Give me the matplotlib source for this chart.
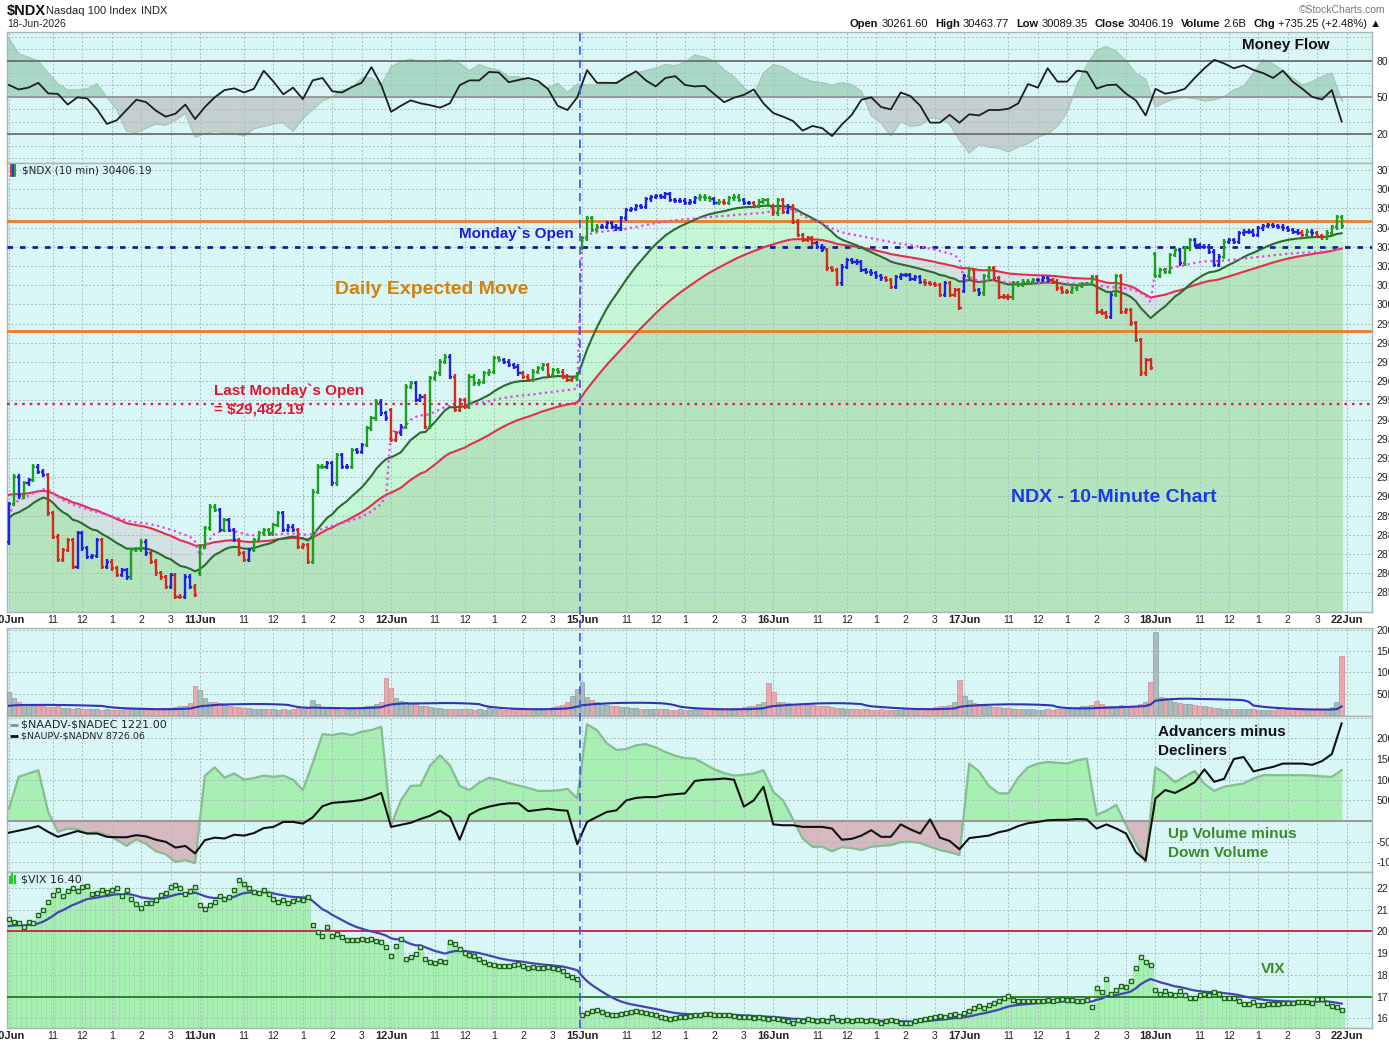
import numpy as np
import matplotlib
matplotlib.use("Agg")
import matplotlib.pyplot as plt
from matplotlib.collections import LineCollection
from matplotlib.lines import Line2D

# ------------------------------------------------------------------ data
days = ["10Jun", "11Jun", "12Jun", "15Jun", "16Jun", "17Jun", "18Jun"]
next_day_label = "22Jun"
bars_per_day = 39
hour_labels = ["11", "12", "1", "2", "3"]
hour_offsets = [9, 15, 21, 27, 33]

day_open = [28760, 28600, 29450, 30295, 30509, 30070, 30262]

close_10jun = [28960, 29103, 29000, 29068, 29085, 29155, 29129, 29111, 28912, 28790,
               28669, 28721, 28773, 28634, 28808, 28730, 28686, 28690, 28773, 28634,
               28660, 28625, 28591, 28617, 28578, 28721, 28725, 28764, 28704, 28660,
               28600, 28578, 28530, 28591, 28478, 28478, 28582, 28530, 28487]
close_11jun = [28738, 28834, 28947, 28929, 28825, 28877, 28825, 28773, 28704, 28669,
               28721, 28773, 28808, 28825, 28808, 28851, 28912, 28825, 28842, 28825,
               28738, 28747, 28660, 29025, 29155, 29155, 29172, 29068, 29216, 29155,
               29155, 29242, 29233, 29268, 29355, 29407, 29494, 29433, 29407]
close_12jun = [29294, 29329, 29363, 29572, 29589, 29502, 29520, 29363, 29615, 29641,
               29702, 29728, 29624, 29450, 29502, 29468, 29624, 29589, 29598, 29641,
               29650, 29719, 29710, 29702, 29685, 29676, 29641, 29624, 29606, 29650,
               29667, 29685, 29633, 29658, 29650, 29624, 29606, 29615, 29638]
close_15jun = [30344, 30448, 30388, 30405, 30405, 30422, 30405, 30396, 30448, 30492,
               30496, 30513, 30509, 30547, 30558, 30565, 30558, 30575, 30544, 30540,
               30540, 30527, 30535, 30552, 30561, 30552, 30547, 30527, 30535, 30527,
               30552, 30561, 30544, 30527, 30527, 30513, 30535, 30544, 30518]
close_16jun = [30474, 30544, 30483, 30509, 30431, 30361, 30335, 30344, 30318, 30301,
               30283, 30188, 30179, 30110, 30197, 30231, 30223, 30218, 30179, 30170,
               30162, 30145, 30136, 30127, 30092, 30141, 30153, 30153, 30131, 30141,
               30118, 30110, 30106, 30101, 30049, 30110, 30049, 30075, 29980]
close_17jun = [30145, 30179, 30075, 30058, 30145, 30188, 30136, 30040, 30040, 30037,
               30110, 30101, 30118, 30118, 30127, 30127, 30136, 30127, 30118, 30084,
               30066, 30066, 30084, 30096, 30106, 30106, 30141, 29962, 29954, 29936,
               30049, 30145, 29962, 29971, 29901, 29815, 29641, 29710, 29671]
close_18jun = [30150, 30179, 30170, 30257, 30283, 30214, 30292, 30335, 30309, 30301,
               30301, 30275, 30205, 30249, 30327, 30335, 30327, 30370, 30379, 30379,
               30361, 30396, 30408, 30414, 30408, 30405, 30396, 30388, 30379, 30374,
               30361, 30379, 30370, 30356, 30349, 30374, 30401, 30453, 30406]

# bar colours (G = green, R = red, B = blue) as shown per bar
color_10jun = "BGBGBGBBRRRRRRBBBBBRBRRBBGGGBRRRRBRRBBR"
color_11jun = "GGGGBGBBRRBGGGGGGBBBRRRGGGBBGBBGBBGGGBB"
color_12jun = "RRBGGBBRGGGGBRRRGGGGGGGBBBBRRGGGRGGRRRG"
color_15jun = "GGGG" + "B" * 20 + "GGGBGRGGGBBRGGG"
color_16jun = "RGRBRRRRRBBRRR" + "B" * 9 + "RR" + "B" * 6 + "RRRRBRRR"
color_17jun = "BGRBGGRRRRGGGGGBBBRRRRGGGGGRRRBG" + "R" * 7
color_18jun = "GGGGGBGGBBBBBBG" + "B" * 15 + "RGBRRGGGG"

vol_10jun = [54, 39, 31, 27, 23, 21, 20, 22, 19, 18, 20, 17, 16, 15, 16, 14, 13, 15, 14, 12,
             13, 12, 11, 12, 13, 14, 15, 13, 12, 14, 13, 15, 16, 17, 18, 20, 22, 28, 67]
vol_11jun = [59, 39, 30, 30, 28, 23, 20, 19, 18, 17, 16, 15, 14, 14, 13, 13, 12, 13, 12, 14,
             16, 15, 18, 36, 25, 18, 16, 14, 13, 12, 14, 15, 16, 18, 20, 22, 25, 30, 86]
vol_12jun = [63, 41, 34, 30, 28, 25, 22, 20, 18, 17, 16, 15, 15, 14, 13, 14, 13, 12, 13, 12,
             18, 14, 13, 12, 12, 13, 12, 14, 13, 15, 14, 16, 17, 18, 20, 24, 30, 45, 60]
vol_15jun = [77, 42, 35, 30, 26, 24, 22, 20, 19, 18, 17, 16, 15, 15, 14, 13, 14, 13, 12, 12,
             13, 12, 12, 13, 14, 13, 12, 12, 13, 14, 15, 16, 17, 18, 20, 22, 26, 30, 75]
vol_16jun = [53, 30, 30, 28, 27, 26, 25, 24, 24, 22, 20, 20, 18, 17, 16, 15, 14, 14, 13, 13,
             12, 12, 13, 12, 11, 12, 12, 13, 12, 14, 15, 16, 17, 18, 20, 22, 24, 30, 81]
vol_17jun = [45, 35, 28, 25, 22, 20, 19, 18, 17, 16, 15, 14, 14, 13, 13, 12, 12, 13, 12, 14,
             15, 16, 17, 18, 20, 22, 24, 34, 26, 22, 20, 22, 24, 22, 20, 21, 25, 31, 78]
vol_18jun = [195, 43, 39, 36, 30, 28, 27, 25, 24, 22, 20, 18, 17, 16, 15, 15, 15, 14, 14, 13,
             13, 12, 12, 12, 12, 13, 12, 13, 13, 12, 12, 11, 12, 13, 14, 15, 18, 31, 139]

vix_10jun = [20.58, 20.43, 20.38, 20.2, 20.43, 20.4, 20.74, 21.0, 21.36, 21.67, 21.93, 21.62, 21.87,
             21.98, 21.87, 22.06, 22.09, 21.72, 21.78, 21.93, 21.83, 21.93, 21.98, 21.62, 21.9, 21.5,
             21.28, 21.1, 21.31, 21.31, 21.47, 21.67, 21.78, 22.06, 22.14, 21.98, 21.72, 21.87, 22.06]
vix_11jun = [21.2, 21.05, 21.2, 21.36, 21.62, 21.5, 21.59, 21.9, 22.37, 22.19, 21.98, 21.83, 21.75,
             21.9, 21.72, 21.5, 21.36, 21.44, 21.31, 21.41, 21.5, 21.47, 21.6, 20.3, 19.96, 19.8,
             20.2, 19.8, 19.88, 19.73, 19.6, 19.6, 19.6, 19.65, 19.6, 19.65, 19.57, 19.5, 19.3]
vix_12jun = [18.88, 19.34, 19.65, 18.72, 18.83, 18.95, 19.3, 18.72, 18.6, 18.55, 18.65, 18.6, 19.5,
             19.4, 19.2, 19.0, 18.9, 18.85, 18.75, 18.6, 18.5, 18.45, 18.4, 18.4, 18.4, 18.45, 18.5,
             18.4, 18.3, 18.35, 18.3, 18.3, 18.35, 18.3, 18.25, 18.2, 18.0, 17.9, 17.8]
vix_15jun = [16.13, 16.24, 16.35, 16.4, 16.29, 16.19, 16.16, 16.13, 16.19, 16.24, 16.29, 16.32, 16.29,
             16.24, 16.19, 16.13, 16.04, 16.0, 15.98, 16.0, 16.04, 16.07, 16.1, 16.13, 16.16, 16.19,
             16.19, 16.16, 16.13, 16.16, 16.13, 16.1, 16.07, 16.07, 16.04, 16.0, 16.04, 16.0, 15.98]
vix_16jun = [16.0, 15.95, 15.9, 15.85, 15.8, 15.9, 15.85, 15.95, 15.9, 15.85, 15.9, 15.85, 16.05,
             15.9, 15.85, 15.9, 15.85, 15.9, 15.9, 15.85, 15.9, 15.85, 15.8, 15.85, 15.9, 15.85,
             15.8, 15.78, 15.8, 15.85, 15.9, 15.95, 16.0, 16.05, 16.1, 16.05, 16.15, 16.2, 16.1]
vix_17jun = [16.24, 16.32, 16.45, 16.55, 16.47, 16.63, 16.7, 16.78, 16.94, 17.02, 16.86, 16.81, 16.81,
             16.78, 16.81, 16.81, 16.81, 16.86, 16.81, 16.86, 16.9, 16.86, 16.86, 16.78, 16.81, 16.86,
             16.5, 17.4, 17.2, 17.8, 17.1, 17.3, 17.5, 17.45, 17.7, 18.3, 18.8, 18.57, 18.47]
vix_18jun = [17.3, 17.1, 17.25, 17.1, 17.05, 17.25, 17.05, 16.95, 16.95, 17.05, 17.1, 17.05, 17.2,
             17.1, 16.95, 16.95, 16.95, 16.79, 16.67, 16.65, 16.75, 16.6, 16.6, 16.67, 16.67, 16.67,
             16.72, 16.72, 16.72, 16.75, 16.75, 16.75, 16.72, 16.87, 16.87, 16.72, 16.57, 16.5, 16.4]

# series sampled every 2nd bar (bar 0, 2, 4, ... 272)
sample_step = 2
money_flow = [60.2, 56.5, 58, 62, 53.3, 52.8, 44, 50, 49, 40,
              28, 31, 39.5, 48, 46, 39, 34, 36.5, 44, 32,
              42, 50, 56, 57.4, 54, 57, 72, 63, 52.5, 58,
              48.5, 64, 66, 55, 54, 58.5, 62, 75, 60, 38,
              43, 47.5, 45, 43.5, 41.5, 45, 60, 64, 64, 71,
              70.5, 62.5, 64.3, 66, 63.5, 57, 43, 39.5, 50, 72.5,
              62, 62, 61.8, 67, 71.5, 64, 59, 66, 67.5, 60.2,
              59, 59.5, 52.5, 46, 49.7, 52, 56.5, 45, 37, 34,
              30.5, 22.5, 26.3, 24.5, 18, 27.5, 35.4, 48, 50, 42,
              40, 54, 51, 43, 29.1, 29.1, 35.5, 29, 36, 35,
              39.5, 39.5, 40.5, 45, 61, 58, 74, 63, 63, 72,
              71, 57.2, 60, 60.5, 53, 47.5, 35, 57, 53, 54.5,
              57, 66, 74, 81, 78, 74, 76.5, 72.6, 70, 66,
              72, 63, 57, 50.3, 48.2, 56, 30]
money_flow_area = [98.8, 86, 83, 80, 70, 61, 56, 56, 57, 61,
                   50, 40, 22, 21, 24.5, 28, 27, 31, 37, 17,
                   20, 22, 21, 20, 18, 24, 26, 28, 29, 22,
                   32.6, 40, 47, 50.5, 56, 57.5, 65.7, 66, 60, 75,
                   79.5, 81.4, 79.5, 78, 80, 81, 78, 72, 77, 74,
                   72.5, 67, 67, 64, 61, 57.5, 61.6, 54, 61, 60,
                   60.2, 61, 62.5, 65.7, 70, 72, 74, 77, 76, 79,
                   85, 83, 80, 72.6, 67, 58, 52, 70, 77, 75,
                   70, 66, 63, 62, 60, 62, 60.5, 55, 35, 29,
                   18, 30, 26, 27, 33, 32, 28, 14.7, 4, 11,
                   9, 8, 5, 9, 12, 17, 20, 26, 38, 60,
                   76.7, 89, 92, 88, 80, 70, 65, 42, 46, 49,
                   50, 49, 47, 48, 50.5, 56, 59, 70, 81, 77.5,
                   72, 66, 60, 63, 67, 70, 47]
adv_minus_dec = [3, 10.7, 11.5, 12.3, 2.3, -2.6, -1.8, -2.0, -3, -2.6,
                 -3.4, -4.5, -6, -4.4, -5.5, -7.3, -8, -9.9, -9.4, -10.2,
                 11, 13, 10.5, 11.5, 10, 10.4, 11, 10.7, 11, 10,
                 7.5, 14, 21, 20.8, 21.2, 20.8, 21.6, 22, 22.8, -1,
                 5, 8.5, 8.6, 13.5, 15.9, 13.5, 8.5, 7.5, 9.3, 10.5,
                 10, 9.2, 8.6, 8.0, 7.3, 7.3, 7.4, 7.8, 5.5, 23.4,
                 22, 18.8, 17.2, 17.4, 18.3, 18.6, 17.8, 16.7, 15.8, 15.2,
                 15.1, 13.8, 12.5, 11.6, 11, 11.2, 11.5, 12.3, 7.1, 5,
                 0.5, -4.2, -6.2, -6.2, -7.3, -6.3, -6.5, -7, -6.2, -6.0,
                 -5.8, -5.1, -5, -5.3, -6.2, -7, -7.5, -8.2, 13.9, 12,
                 8.5, 6.7, 6.7, 10.5, 13, 13.9, 14.3, 14.1, 13.9, 14.7,
                 15.1, 1.5, 2.5, 3.9, -1, -5.5, -9.9, 13, 11.5, 9.4,
                 10.8, 12.1, 9, 7.3, 8.3, 8.7, 9.1, 10.3, 11.1, 11.1,
                 11.1, 11.1, 11.1, 11.0, 10.8, 10.7, 12.3]
upvol_minus_downvol = [-2.8, -2.3, -1.8, -1.2, -2.6, -3.8, -3.1, -2.4, -3, -3,
                       -3.8, -3.9, -3.9, -3.4, -3.7, -4.5, -5, -6.4, -6, -7.8,
                       -4.6, -4, -4.2, -3.3, -3.5, -2.9, -1.7, -1.4, -0.2, -0.2,
                       -0.6, 0.9, 3.6, 4.4, 4.6, 4.8, 5.1, 5.8, 6.8, -1.4,
                       -0.9, -0.4, 0.5, 1.3, 2.5, 1, -4.5, 1.5, 2.8, 3.5,
                       4.0, 4.3, 4.3, 2.4, 2.7, 3.0, 2.7, 2.5, -5.6, -0.2,
                       1.0, 2.2, 2.6, 5.0, 5.6, 5.8, 5.8, 6.3, 6.5, 6.7,
                       9.7, 10.0, 10.1, 10.3, 10, 3.5, 5, 8.3, -0.8, -1,
                       -1, -1.4, -1.4, -1.4, -1.8, -4.5, -4.3, -3.5, -2.2, -3.8,
                       -3.8, -0.8, -2, -3.0, 0.4, -4, -4.8, -6.8, -4.1, -3.8,
                       -3.5, -2.7, -2.2, -1.2, -0.5, -0.2, 0.2, 0.3, 0.3, 0.5,
                       0.4, -1.8, -0.8, -1.8, -3.0, -7.5, -9.5, 5.5, 7.5, 6.8,
                       8, 9.4, 12.5, 9.5, 10.2, 15, 15.5, 12, 12.6, 13.1,
                       13.9, 13.9, 13.9, 13.6, 14.5, 16.2, 23.6]

ema_fast_span, ema_fast_seed = 20, 28880
ema_slow_span, ema_slow_seed = 50, 29010
vol_ma_len, vol_ma_seed = 20, 20
vix_ma_span, vix_ma_seed = 14, 20.2

expected_move_upper = 30435
expected_move_lower = 29860
monday_open = 30300
last_monday_open = 29482.19

hdr_open, hdr_high, hdr_low, hdr_close = "30261.60", "30463.77", "30089.35", "30406.19"
hdr_volume, hdr_chg = "2.6B", "+735.25 (+2.48%)"
last_adv, last_updn, last_vix = "1221.00", "8726.06", "16.40"

# ------------------------------------------------------------------ derived series
closes = np.array(close_10jun + close_11jun + close_12jun + close_15jun +
                  close_16jun + close_17jun + close_18jun, float)
colors_code = (color_10jun + color_11jun + color_12jun + color_15jun +
               color_16jun + color_17jun + color_18jun)
vol = np.array(vol_10jun + vol_11jun + vol_12jun + vol_15jun + vol_16jun +
               vol_17jun + vol_18jun, float)
vix = np.array(vix_10jun + vix_11jun + vix_12jun + vix_15jun + vix_16jun +
               vix_17jun + vix_18jun, float)
n = len(closes)
kk = np.arange(n)
opens = np.empty(n)
opens[1:] = closes[:-1]
for d, o in enumerate(day_open):
    opens[d * bars_per_day] = o
wick = 12
highs = np.maximum(opens, closes) + wick
lows = np.minimum(opens, closes) - wick


def ema(x, span, seed):
    a = 2.0 / (span + 1)
    out, prev = [], seed
    for v in x:
        prev = prev + a * (v - prev)
        out.append(prev)
    return np.array(out)


ema_fast = ema(closes, ema_fast_span, ema_fast_seed)
ema_slow = ema(closes, ema_slow_span, ema_slow_seed)
tp = (highs + lows + closes) / 3
vwap = np.empty(n)
for d in range(len(days)):
    s = slice(d * bars_per_day, (d + 1) * bars_per_day)
    vwap[s] = np.cumsum(tp[s] * vol[s]) / np.cumsum(vol[s])
vol_ma = np.convolve(np.concatenate([np.full(vol_ma_len - 1, vol_ma_seed), vol]),
                     np.ones(vol_ma_len) / vol_ma_len, mode="valid")
vix_ma = ema(vix, vix_ma_span, vix_ma_seed)
prev_close = np.concatenate([[opens[0]], closes[:-1]])
vol_up = closes >= prev_close

xs = np.arange(0, n, sample_step)
mf = np.array(money_flow)
mfa = np.array(money_flow_area)
adv = np.array(adv_minus_dec)
updn = np.array(upvol_minus_downvol)

# ------------------------------------------------------------------ figure
W_PX, H_PX = 1389, 1046
fig = plt.figure(figsize=(W_PX / 100, H_PX / 100), dpi=100)
fig.patch.set_facecolor("white")
plt.rcParams["font.family"] = ["Liberation Sans", "DejaVu Sans"]
L_PX, R_PX = 7, 1372
XMIN, XMAX = -0.39, 278.2
BG = "#d9f6f6"


def rect(top, bot):
    return [L_PX / W_PX, 1 - bot / H_PX, (R_PX - L_PX) / W_PX, (bot - top) / H_PX]


def ftext(xp, yp, s, **kw):
    kw.setdefault("parse_math", False)
    return fig.text(xp / W_PX, 1 - yp / H_PX, s, **kw)


xticks, xlabels = [], []
for d, dname in enumerate(days):
    xticks.append(d * bars_per_day)
    xlabels.append(dname)
    for off, lab in zip(hour_offsets, hour_labels):
        xticks.append(d * bars_per_day + off)
        xlabels.append(lab)
xticks.append(len(days) * bars_per_day)
xlabels.append(next_day_label)


def style(ax, ylim, yticks, ylabels, show_x=False):
    ax.set_facecolor(BG)
    ax.set_xlim(XMIN, XMAX)
    ax.set_ylim(*ylim)
    ax.set_xticks(xticks)
    ax.set_yticks(yticks)
    ax.set_yticklabels(ylabels)
    ax.yaxis.tick_right()
    ax.tick_params(axis="both", length=0, labelsize=7.5, colors="#222222", pad=3)
    ax.grid(True, color="#a9bcbc", linestyle=(0, (2, 2)), linewidth=0.7, zorder=2.5)
    ax.set_axisbelow(False)
    for sp in ax.spines.values():
        sp.set_color("#a8b4b4")
        sp.set_linewidth(1.0)
    if show_x:
        ax.set_xticklabels(xlabels)
        ax.tick_params(axis="x", pad=2)
        for t in ax.get_xticklabels():
            if "Jun" in t.get_text():
                t.set_fontweight("bold")
                t.set_fontsize(8)
    else:
        ax.tick_params(axis="x", labelbottom=False)


# ---- Money flow panel
ax_mf = fig.add_axes(rect(32, 163))
mf_ticks = list(range(0, 101, 10))
style(ax_mf, (-4.3, 104), mf_ticks, [str(t) if t in (20, 50, 80) else "" for t in mf_ticks])
ax_mf.fill_between(xs, 50, mfa, where=mfa >= 50, interpolate=True, color="#a9d9c6", zorder=1)
ax_mf.fill_between(xs, 50, mfa, where=mfa < 50, interpolate=True, color="#c4cfcf", zorder=1)
ax_mf.plot(xs, mfa, color="#a7c7bb", lw=0.8, zorder=2)
for lvl, c in ((80, "#6e6e6e"), (20, "#6e6e6e"), (50, "#959595")):
    ax_mf.axhline(lvl, color=c, lw=1.3, zorder=3)
ax_mf.plot(xs, mf, color="#1e1e1e", lw=1.3, zorder=4)
ax_mf.text(0.937, 0.9, "Money Flow", transform=ax_mf.transAxes, ha="center", va="center",
           fontsize=11, fontweight="bold", color="#111111")

# ---- Price panel
P_TOP, P_BOT = 30736, 28398
ax_p = fig.add_axes(rect(163, 612))
p_ticks = list(range(28500, 30701, 100))
style(ax_p, (P_BOT, P_TOP), p_ticks, [str(t) for t in p_ticks], show_x=True)
ax_p.fill_between(kk, P_BOT, np.minimum(ema_fast, ema_slow), color="#b4e4be", zorder=1)
ax_p.fill_between(kk, ema_slow, ema_fast, where=ema_fast >= ema_slow, interpolate=True,
                  color="#c2f6d4", zorder=1)
ax_p.fill_between(kk, ema_fast, ema_slow, where=ema_fast < ema_slow, interpolate=True,
                  color="#d2e2e2", zorder=1)
ax_p.axhline(expected_move_upper, color="#f07a22", lw=2, zorder=3)
ax_p.axhline(expected_move_lower, color="#f07a22", lw=2, zorder=3)
ax_p.axhline(monday_open, color="#1c1c8e", lw=2, linestyle=(0, (2, 2.5)), zorder=3)
ax_p.axhline(last_monday_open, color="#e0204a", lw=1.6, linestyle=(0, (1.2, 2.2)), zorder=3)
ax_p.plot(kk, ema_slow, color="#e0304c", lw=1.5, zorder=4)
ax_p.plot(kk, ema_fast, color="#2c6a2e", lw=1.5, zorder=4)
ax_p.plot(kk, vwap, color="#ee3cee", lw=1.6, linestyle=(0, (1, 1.6)), zorder=4)

cmap = {"G": "#1aa01a", "R": "#d42a1e", "B": "#2020e6"}
segs, cols = [], []
tick_w = 0.42
for i in range(n):
    c = cmap[colors_code[i]]
    segs += [[(i, lows[i]), (i, highs[i])],
             [(i - tick_w, opens[i]), (i, opens[i])],
             [(i, closes[i]), (i + tick_w, closes[i])]]
    cols += [c, c, c]
ax_p.add_collection(LineCollection(segs, colors=cols, linewidths=1.7, zorder=6,
                                   capstyle="butt"))

ax_p.text(0.0113, 0.984, "$NDX (10 min) " + hdr_close, transform=ax_p.transAxes,
          fontsize=7.5, va="center", ha="left", color="#222222", parse_math=False,
          family="DejaVu Sans")
for dx, c in ((0.0030, "#d42a1e"), (0.0045, "#2020e6"), (0.0060, "#1aa01a")):
    ax_p.plot([dx, dx], [0.972, 0.995], transform=ax_p.transAxes, color=c, lw=1.3,
              zorder=7, clip_on=False)

ax_p.text((574 - L_PX) / (R_PX - L_PX), 1 - (234 - 163) / (612 - 163), "Monday`s Open",
          transform=ax_p.transAxes, ha="right", va="center", fontsize=11,
          fontweight="bold", color="#1a1ae0", zorder=8)
ax_p.text((432 - L_PX) / (R_PX - L_PX), 1 - (289 - 163) / (612 - 163), "Daily Expected Move",
          transform=ax_p.transAxes, ha="center", va="center", fontsize=14,
          fontweight="bold", color="#d4820e", zorder=8)
ax_p.text((214 - L_PX) / (R_PX - L_PX), 1 - (391 - 163) / (612 - 163), "Last Monday`s Open",
          transform=ax_p.transAxes, ha="left", va="center", fontsize=11,
          fontweight="bold", color="#e4142e", zorder=8)
ax_p.text((214 - L_PX) / (R_PX - L_PX), 1 - (409 - 163) / (612 - 163),
          "= ${:,.2f}".format(last_monday_open),
          transform=ax_p.transAxes, ha="left", va="center", fontsize=11,
          fontweight="bold", color="#e4142e", zorder=8, parse_math=False)
ax_p.text((1114 - L_PX) / (R_PX - L_PX), 1 - (497 - 163) / (612 - 163), "NDX - 10-Minute Chart",
          transform=ax_p.transAxes, ha="center", va="center", fontsize=14,
          fontweight="bold", color="#1a3ae6", zorder=8)

# ---- Volume panel
ax_v = fig.add_axes(rect(628, 716))
style(ax_v, (-2.3, 204), [50, 100, 150, 200], ["50M", "100M", "150M", "200M"])
ax_v.bar(kk[vol_up], vol[vol_up], width=0.92, color="#a9bbbb", edgecolor="#8a9e9e",
         linewidth=0.5, zorder=3)
ax_v.bar(kk[~vol_up], vol[~vol_up], width=0.92, color="#e7a9ad", edgecolor="#c98b92",
         linewidth=0.5, zorder=3)
ax_v.plot(kk, vol_ma, color="#3232b4", lw=1.5, zorder=4)

# ---- Advancers / up volume panel
ax_a = fig.add_axes(rect(716, 872))
a_ticks = [-10, -5, 0, 5, 10, 15, 20, 25]
style(ax_a, (-12.3, 25.4), a_ticks,
      ["" if t in (0, 25) else str(t * 100) for t in a_ticks])
ax_a.fill_between(xs, 0, adv, where=adv >= 0, interpolate=True, color="#a8efb4", zorder=1)
ax_a.fill_between(xs, 0, adv, where=adv < 0, interpolate=True, color="#d5b8c0", zorder=1)
ax_a.plot(xs, adv, color="#86bd92", lw=1.6, zorder=3)
ax_a.axhline(0, color="#9a9a9a", lw=1.5, zorder=3)
ax_a.plot(xs, updn, color="#111111", lw=1.5, zorder=4)
# legend keys drawn as short lines
ax_a.plot([0.0022, 0.0080], [0.945, 0.945], transform=ax_a.transAxes, color="#8a8a8a",
          lw=2, zorder=7, solid_capstyle="butt")
ax_a.plot([0.0022, 0.0080], [0.873, 0.873], transform=ax_a.transAxes, color="#111111",
          lw=2, zorder=7, solid_capstyle="butt")
ax_a.text(0.0100, 0.945, "$NAADV-$NADEC " + last_adv, transform=ax_a.transAxes, fontsize=8,
          color="#222222", va="center", parse_math=False, family="DejaVu Sans")
ax_a.text(0.0100, 0.873, "$NAUPV-$NADNV " + last_updn, transform=ax_a.transAxes, fontsize=6.8,
          color="#222222", va="center", parse_math=False, family="DejaVu Sans")
ax_a.text((1158 - L_PX) / (R_PX - L_PX), 1 - (732 - 716) / 156, "Advancers minus",
          transform=ax_a.transAxes, fontsize=11, fontweight="bold", color="#111111", va="center")
ax_a.text((1158 - L_PX) / (R_PX - L_PX), 1 - (751 - 716) / 156, "Decliners",
          transform=ax_a.transAxes, fontsize=11, fontweight="bold", color="#111111", va="center")
ax_a.text((1168 - L_PX) / (R_PX - L_PX), 1 - (834 - 716) / 156, "Up Volume minus",
          transform=ax_a.transAxes, fontsize=11, fontweight="bold", color="#3a8a2a", va="center")
ax_a.text((1168 - L_PX) / (R_PX - L_PX), 1 - (853 - 716) / 156, "Down Volume",
          transform=ax_a.transAxes, fontsize=11, fontweight="bold", color="#3a8a2a", va="center")

# ---- VIX panel
V_BOT, V_TOP = 15.55, 22.74
ax_x = fig.add_axes(rect(872, 1028))
v_ticks = [16, 17, 18, 19, 20, 21, 22]
style(ax_x, (V_BOT, V_TOP), v_ticks, [str(t) for t in v_ticks], show_x=True)
ax_x.bar(kk, vix - V_BOT, bottom=V_BOT, width=1.0, color="#a8efb3", edgecolor="#93dfa0",
         linewidth=0.4, zorder=1)
ax_x.axhline(20, color="#d2184a", lw=1.3, zorder=3)
ax_x.axhline(17, color="#1e7e1e", lw=1.3, zorder=3)
ax_x.plot(kk, vix_ma, color="#4444b6", lw=1.6, zorder=4)
ax_x.plot(kk, vix, linestyle="none", marker="s", ms=3.0, mfc="#c9f7c9", mec="#1b661b",
          mew=1.0, zorder=5)
ax_x.text(0.0105, 0.955, "$VIX " + last_vix, transform=ax_x.transAxes, fontsize=8,
          color="#222222", va="center", parse_math=False, family="DejaVu Sans")
for dx, h in ((0.0025, 0.035), (0.0040, 0.055), (0.0055, 0.045)):
    ax_x.plot([dx, dx], [0.93, 0.93 + h], transform=ax_x.transAxes, color="#22cc22",
              lw=1.6, zorder=7)
ax_x.text((1273 - L_PX) / (R_PX - L_PX), 1 - (969 - 872) / 156, "VIX",
          transform=ax_x.transAxes, fontsize=11, fontweight="bold", color="#3a8a2a",
          va="center", ha="center")

# ---- vertical dashed line at Monday's open (start of 15Jun)
x_line = 3 * bars_per_day - 0.45
x_fig = L_PX / W_PX + (x_line - XMIN) / (XMAX - XMIN) * (R_PX - L_PX) / W_PX
fig.add_artist(Line2D([x_fig, x_fig], [1 - 1028 / H_PX, 1 - 32 / H_PX],
                      transform=fig.transFigure, color="#3a55e0", lw=1.2,
                      linestyle=(0, (5, 3)), zorder=10))

# ---- header
ftext(7, 11, "$NDX", fontsize=10.5, fontweight="bold", va="center", color="#111111")
ftext(46, 11, "Nasdaq 100 Index", fontsize=8, va="center", color="#222222")
ftext(141, 11, "INDX", fontsize=8, va="center", color="#222222")
ftext(7, 24, "18-Jun-2026", fontsize=7.5, va="center", color="#222222")
ftext(1385, 10, "\u00a9StockCharts.com", fontsize=7.5, va="center", ha="right", color="#777777")

pieces = [("Open", True), (hdr_open, False), ("High", True), (hdr_high, False),
          ("Low", True), (hdr_low, False), ("Close", True), (hdr_close, False),
          ("Volume", True), (hdr_volume, False), ("Chg", True), (hdr_chg + " \u25b2", False)]
renderer = fig.canvas.get_renderer()
objs, widths = [], []
for s, b in pieces:
    t = ftext(0, 24, s, fontsize=8, va="center", ha="left", color="#111111",
              fontweight="bold" if b else "normal")
    objs.append(t)
    widths.append(t.get_window_extent(renderer).width)
gaps = [3 if b else 7 for s, b in pieces]
total = sum(widths) + sum(gaps[:-1])
xcur = 1381 - total
for t, w, g in zip(objs, widths, gaps):
    t.set_x(xcur / W_PX)
    xcur += w + g

fig.savefig("out.png", dpi=100, facecolor="white")
